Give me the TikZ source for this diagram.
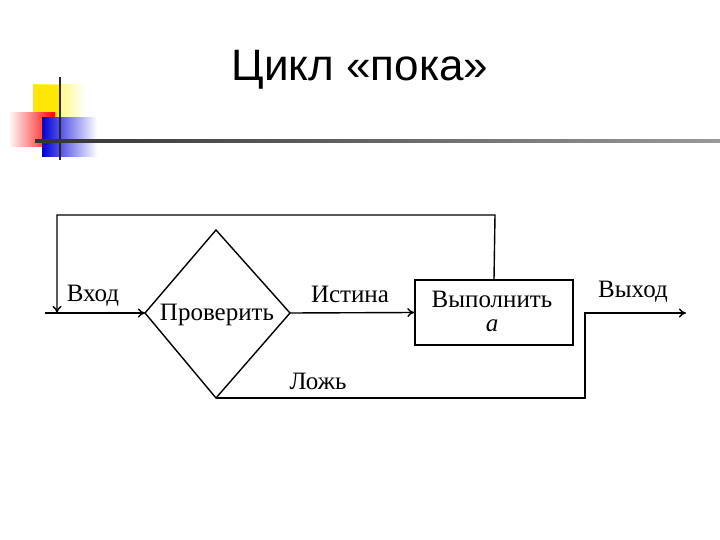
\documentclass[tikz,border=0pt]{standalone}
\usepackage{fontspec}
\setmainfont{Liberation Serif}
\newfontfamily\titlefont{Liberation Sans}
\usetikzlibrary{arrows.meta}
\begin{document}
\begin{tikzpicture}[x=1pt,y=-1pt,
  line/.style={line width=1.4pt},
  arr/.style={line, -{To[length=7pt,width=9pt]}},
  lbl/.style={font=\fontsize{25}{27}\selectfont, inner sep=0pt}]
\useasboundingbox (0,0) rectangle (720,540);
% decoration
\shade[left color=yellow!90!orange, right color=white] (33,85) rectangle (85,127);
\fill[yellow!90!orange] (33,85) rectangle (60,127);
\shade[left color=white, right color=red] (8,113) rectangle (55,147);
\shade[left color=blue!85!black, right color=white] (42,118) rectangle (97,157);
\draw[line width=2pt, black!85] (60,77) -- (60,160);
\shade[left color=black!80, right color=black!40] (35,140) rectangle (720,142.5);
\node[font=\titlefont\fontsize{44}{46}\selectfont] (title) at (360,70) {Цикл «пока»};
% diagram
\coordinate (dt) at (216,230); \coordinate (dr) at (290,313);
\coordinate (db) at (216,398); \coordinate (dl) at (145,313);
\draw[line] (dt) -- (dr) -- (db) -- (dl) -- cycle;
\node[lbl] (chk) at (217,315) {Проверить};
\node[draw, line, minimum width=158pt, minimum height=65pt, inner sep=0pt] (box) at (494,312.5) {};
\node[lbl, align=center] (boxt) at (492,311) {Выполнить\\[-3pt]\textit{a}};
\coordinate (in) at (45,313);
\draw[arr] (in) -- (dl);
\draw[arr] (dr) -- (box.west);
\coordinate (lp1) at (495,215); \coordinate (lp2) at (57,215); \coordinate (lp3) at (57,313);
\draw[arr] (box.north) -- (lp1) -- (lp2) -- (lp3);
\coordinate (e1) at (585,398); \coordinate (e2) at (585,313); \coordinate (e3) at (686,313);
\draw[arr] (db) -- (e1) -- (e2) -- (e3);
\node[lbl] (vh) at (93,296) {Вход};
\node[lbl] (ist) at (350,294) {Истина};
\node[lbl] (vyh) at (633,292) {Выход};
\node[lbl] (lozh) at (318,381) {Ложь};
\end{tikzpicture}
\end{document}
